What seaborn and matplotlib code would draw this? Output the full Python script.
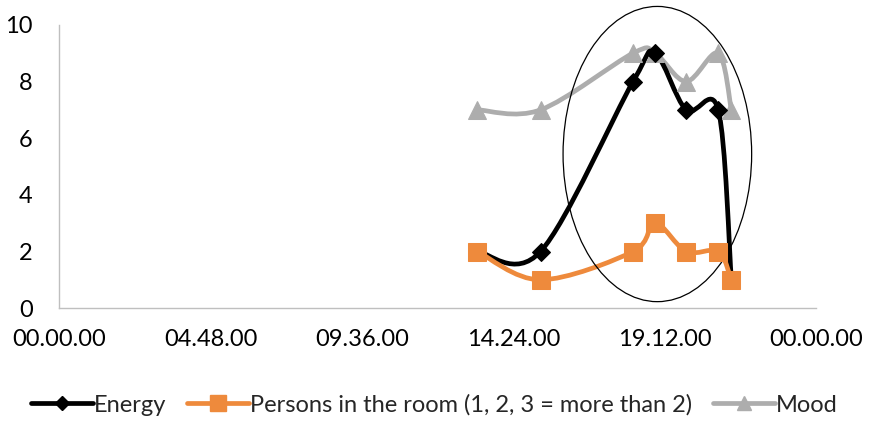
import matplotlib
matplotlib.use("Agg")
import matplotlib.pyplot as plt
import seaborn as sns
from matplotlib.path import Path
from matplotlib.patches import PathPatch, Ellipse
from matplotlib.lines import Line2D

# ---- data ----
times = ["13:16", "15:16", "18:12", "18:54", "19:53", "20:54", "21:19"]
energy = [2, 2, 8, 9, 7, 7, 1]
persons = [2, 1, 2, 3, 2, 2, 1]
mood = [7, 7, 9, 9, 8, 9, 7]
xtick_labels = ["00.00.00", "04.48.00", "09.36.00", "14.24.00", "19.12.00", "00.00.00"]

hours = [int(t[:2]) + int(t[3:]) / 60 for t in times]

sns.set_style("white")
plt.rcParams["font.family"] = ["Lato", "DejaVu Sans"]

fig = plt.figure(figsize=(8.69, 4.21), dpi=100)
ax = fig.add_axes([0.068, 0.268, 0.871, 0.673])


def smooth_path(xs, ys):
    # Excel-style smoothed line: Catmull-Rom as cubic Bezier segments
    pts = list(zip(xs, ys))
    n = len(pts)
    verts = [pts[0]]
    codes = [Path.MOVETO]
    for i in range(n - 1):
        p0 = pts[max(i - 1, 0)]
        p1 = pts[i]
        p2 = pts[i + 1]
        p3 = pts[min(i + 2, n - 1)]
        c1 = (p1[0] + (p2[0] - p0[0]) / 6, p1[1] + (p2[1] - p0[1]) / 6)
        c2 = (p2[0] - (p3[0] - p1[0]) / 6, p2[1] - (p3[1] - p1[1]) / 6)
        verts += [c1, c2, p2]
        codes += [Path.CURVE4] * 3
    return Path(verts, codes)


series = [
    ("Mood", mood, "#ADADAD", "^", 13),
    ("Energy", energy, "#000000", "D", 9),
    ("Persons in the room (1, 2, 3 = more than 2)", persons, "#EE8A3C", "s", 13),
]

for name, vals, col, mk, ms in series:
    ax.add_patch(PathPatch(smooth_path(hours, vals), fill=False, edgecolor=col,
                           lw=3.4, capstyle="round", joinstyle="round",
                           transform=ax.transData))
    sns.lineplot(x=hours, y=vals, ax=ax, linestyle="", marker=mk, markersize=ms,
                 color=col, markeredgecolor=col)

ax.add_patch(Ellipse((18.97, 5.44), 5.98, 10.42, fill=False, edgecolor="black",
                     lw=0.9, clip_on=False))

ax.set_xlim(0, 24)
ax.set_ylim(0, 10)
ax.set_xticks([0, 4.8, 9.6, 14.4, 19.2, 24])
ax.set_xticklabels(xtick_labels)
ax.set_yticks([0, 2, 4, 6, 8, 10])
ax.tick_params(axis="both", length=0, labelsize=17, colors="black")
ax.tick_params(axis="y", pad=19)
ax.tick_params(axis="x", pad=15)
ax.grid(False)
for s in ["top", "right"]:
    ax.spines[s].set_visible(False)
for s in ["left", "bottom"]:
    ax.spines[s].set_color("#BFBFBF")
    ax.spines[s].set_linewidth(1)

handles = [
    Line2D([], [], color="#000000", lw=3.4, marker="D", markersize=7),
    Line2D([], [], color="#EE8A3C", lw=3.4, marker="s", markersize=11),
    Line2D([], [], color="#ADADAD", lw=3.4, marker="^", markersize=10),
]
labels = ["Energy", "Persons in the room (1, 2, 3 = more than 2)", "Mood"]
fig.legend(handles, labels, loc="center", bbox_to_anchor=(0.5, 0.038), ncol=3,
           frameon=False, fontsize=17, handlelength=2.6, handletextpad=0.05,
           columnspacing=0.9)

fig.savefig("out.png", dpi=100)
